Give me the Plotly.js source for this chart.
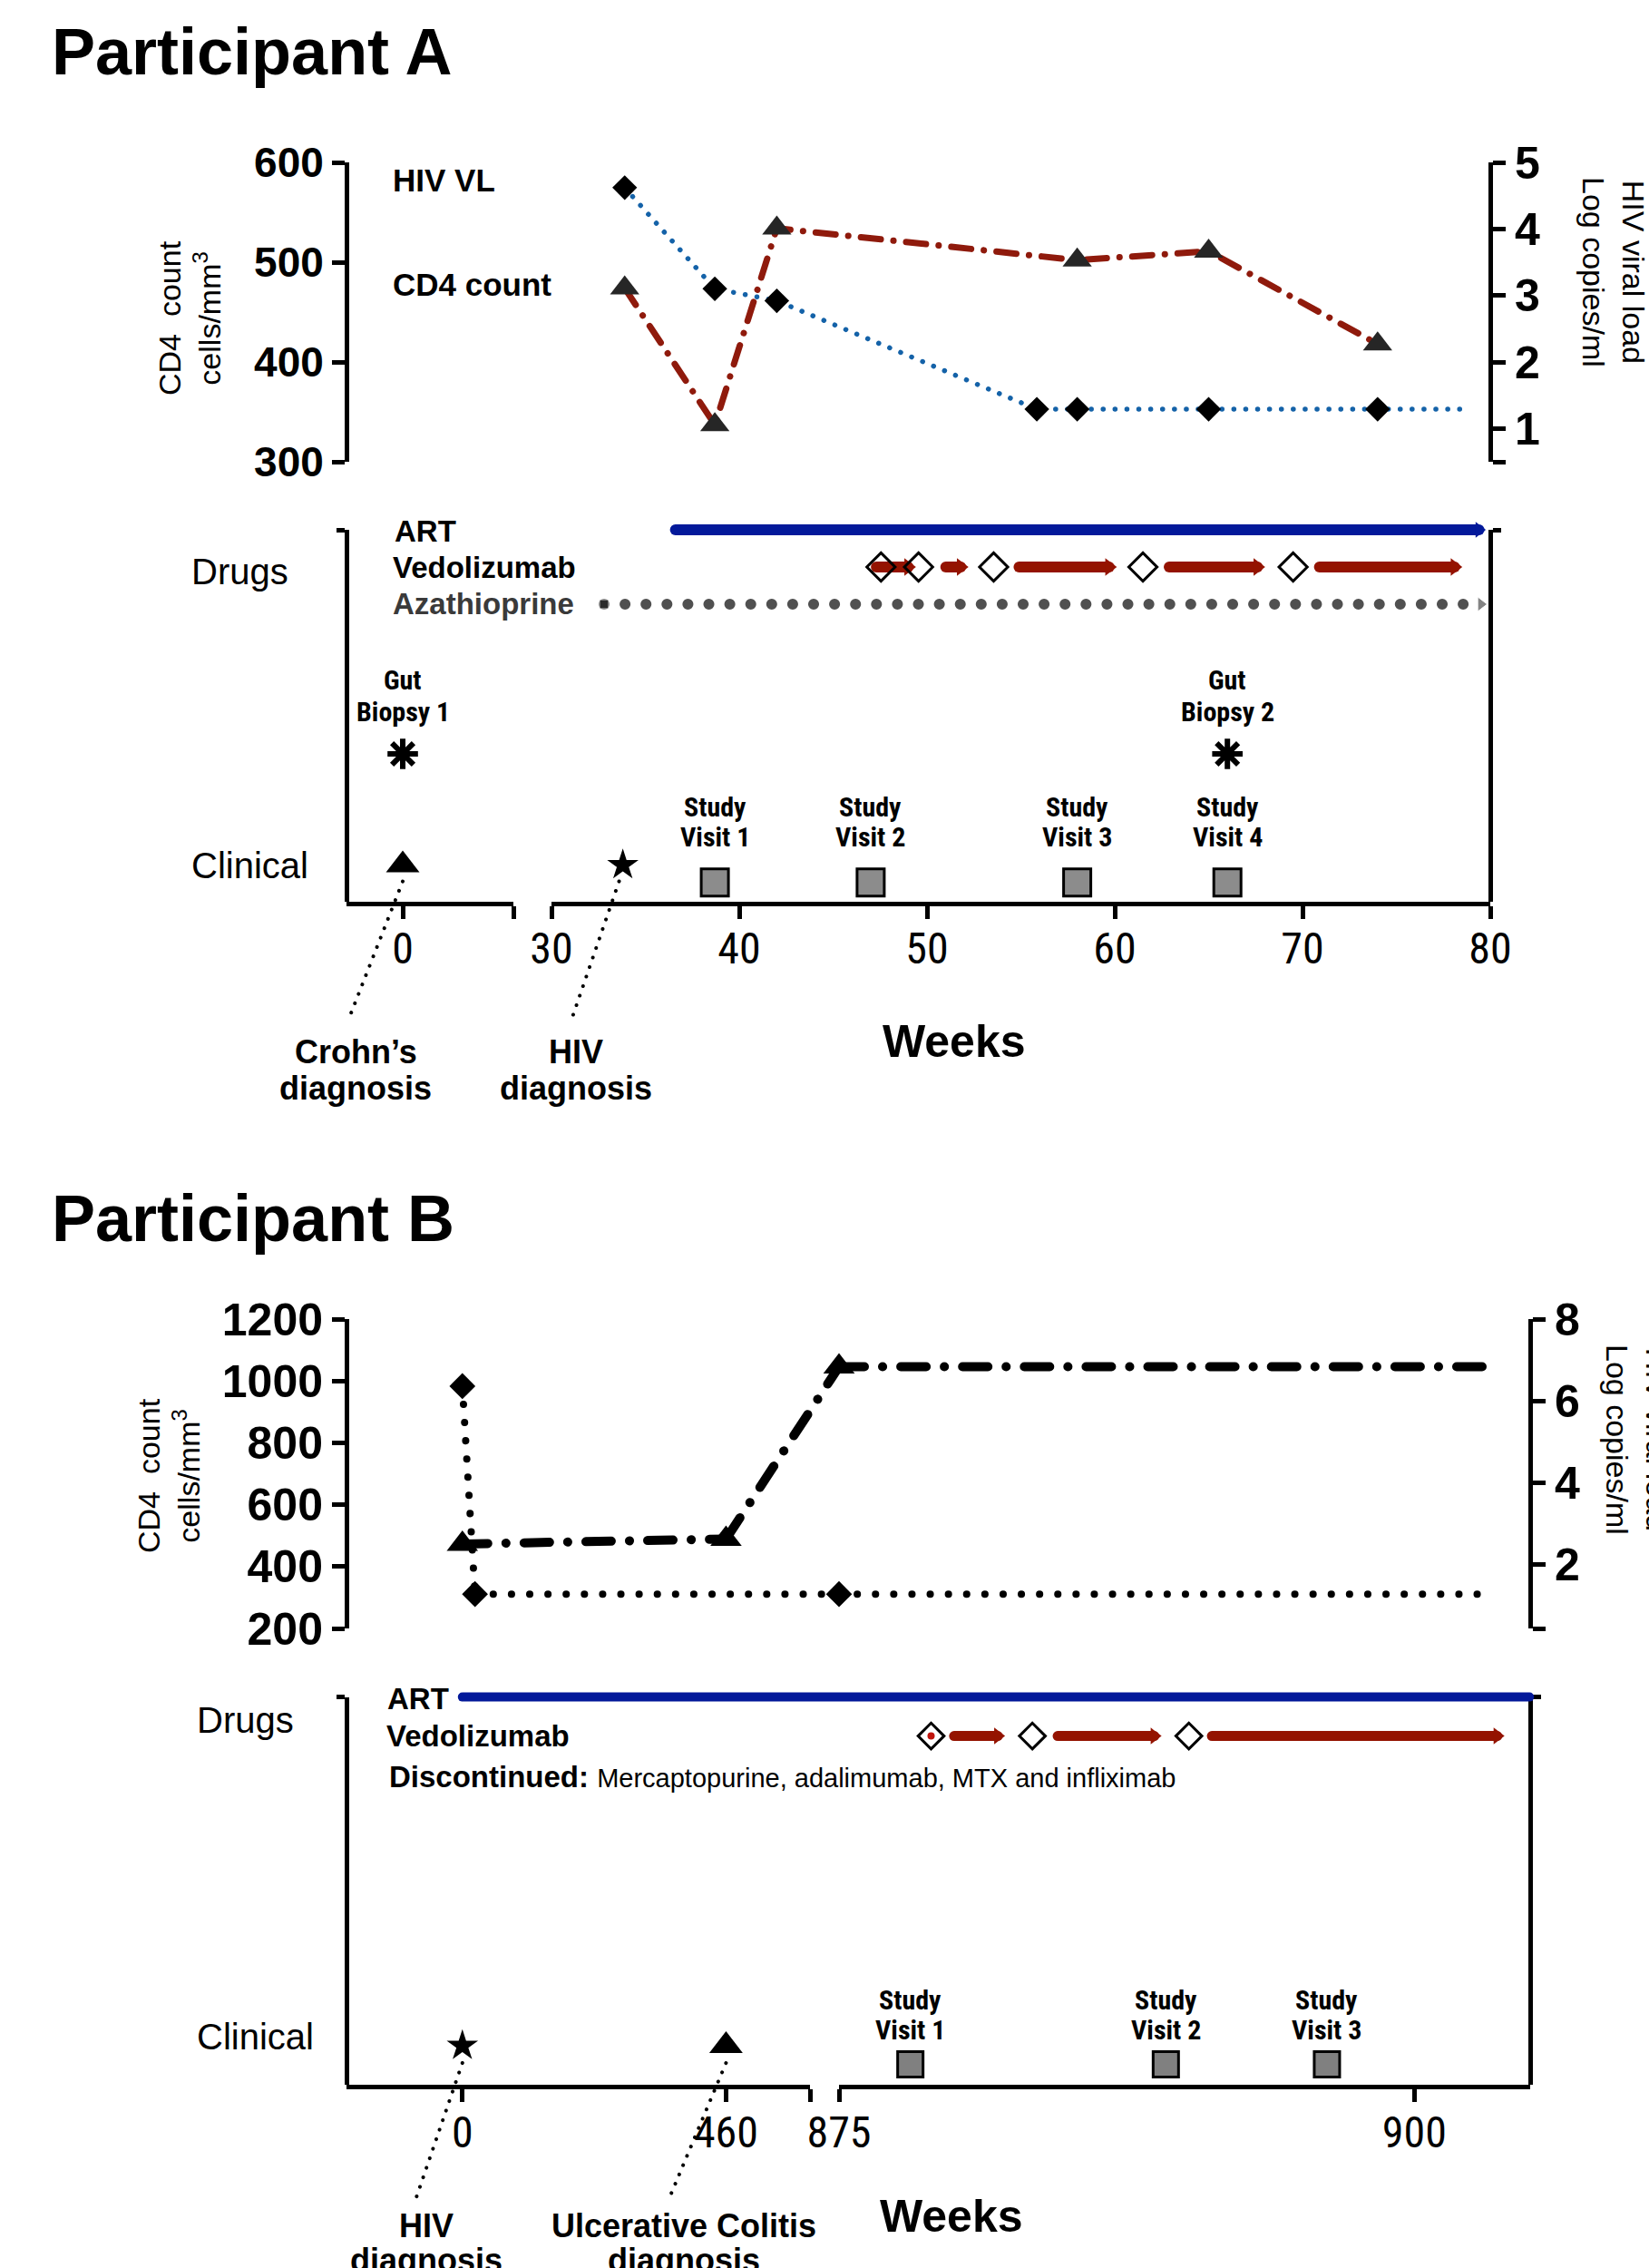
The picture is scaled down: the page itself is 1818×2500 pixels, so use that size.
<!DOCTYPE html>
<html>
<head>
<meta charset="utf-8">
<script src="https://cdn.plot.ly/plotly-3.0.1.min.js"></script>
<style>
html,body{margin:0;padding:0;background:#fff;}
#chart{width:1818px;height:2500px;}
.js-line{stroke-linecap:round;}
</style>
</head>
<body>
<div id="chart"></div>
<script>
// ================= DATA =================
// ---- Participant A (weeks) ----
const aVLWeeks = [33.9, 38.7, 42.0, 55.85, 58.0, 65.0, 74.0];
const aVL = [4.62, 3.10, 2.92, 1.29, 1.29, 1.29, 1.29];          // log copies/ml
const aVLFollowUpEnd = 78.6;
const aCD4Weeks = [33.9, 38.7, 42.0, 58.0, 65.0, 74.0];
const aCD4 = [474, 337, 534, 502, 511, 418];                       // cells/mm3
const aART = [36.6, 79.4];
const aVedoDoses = [47.55, 49.55, 53.55, 61.5, 69.5];
const aVedoArrowStart = [47.3, 51.0, 54.9, 62.9, 70.9];
const aVedoArrowEnd = [49.0, 51.8, 59.7, 67.6, 78.1];
const aAza = [32.8, 79.5];
const aBiopsyWeeks = [0, 66];
const aBiopsyLabels = [['Gut', 'Biopsy 1'], ['Gut', 'Biopsy 2']];
const aVisitWeeks = [38.7, 47.0, 58.0, 66.0];
const aVisitLabels = ['Visit 1', 'Visit 2', 'Visit 3', 'Visit 4'];
const aCrohnWeek = 0;
const aHIVWeek = 33.8;
const aSeg1Ticks = [0];
const aSeg2Ticks = [30, 40, 50, 60, 70, 80];
const aCD4Ticks = [300, 400, 500, 600];
const aVLTicks = [1, 2, 3, 4, 5];

// ---- Participant B (weeks) ----
const bVLWeeks = [0, 22, 875];
const bVL = [6.36, 1.27, 1.27];
const bVLFollowUpEnd = 903.5;
const bCD4Weeks = [0, 460, 875];
const bCD4 = [473, 489, 1046];
const bCD4FollowUpEnd = 903.5;
const bART = [0, 905];
const bVedoDoses = [879.0, 883.4, 890.2];
const bVedoArrowStart = [880.0, 884.5, 891.2];
const bVedoArrowEnd = [881.9, 888.7, 903.6];
const bVisitWeeks = [878.1, 889.2, 896.2];
const bVisitLabels = ['Visit 1', 'Visit 2', 'Visit 3'];
const bHIVWeek = 0;
const bUCWeek = 460;
const bSeg1Ticks = [0, 460];
const bSeg2Ticks = [875, 900];
const bCD4Ticks = [200, 400, 600, 800, 1000, 1200];
const bVLTicks = [2, 4, 6, 8];

// ================= LAYOUT HELPERS =================
const W = 1818, H = 2500;
const fx = p => p / W, fy = p => 1 - p / H;
const FONT = 'Liberation Sans, Arial, Helvetica, sans-serif';
const NARROW = 'Roboto Condensed, Liberation Sans, sans-serif';
const RED = '#941300', RED_CD4 = '#8f1a0c', BLUE_ART = '#03199a', BLUE_VL = '#1462a8', GRAY = '#505050';

// axis ranges of the broken week axes
const aSeg1Range = [-3, 5.9], aSeg2Range = [30, 80];
const bSeg1Range = [-202.2, 606.5], bSeg2Range = [875, 905.03];

// lanes: height (px) above the x-axis line of each timeline panel
const laneA = {art: 409.5, vedo: 368.5, aza: 327.5, biopsy: 162.5, bioLab1: 243.5, bioLab2: 208.5,
               visLab1: 103.5, visLab2: 70.5, event: 40, visit: 20.7, leadTop: 22, leadBot: -130.8};
const laneB = {art: 427.4, vedo: 384.4, visLab1: 94, visLab2: 60.6, event: 43, visit: 22.4, leadTop: 24, leadBot: -125};

const traces = [];
const base = {type: 'scatter', hoverinfo: 'skip', showlegend: false, cliponaxis: false};
function add(t) { traces.push(Object.assign({}, base, t)); }
function split(weeks, vals, brk) {
  const s1 = {x: [], y: []}, s2 = {x: [], y: []};
  weeks.forEach((w, i) => { const s = w < brk ? s1 : s2; s.x.push(w); s.y.push(vals ? vals[i] : null); });
  return {s1, s2};
}
function segs(st, en) { const x = []; st.forEach((s, i) => x.push(s, en[i], null)); return x; }
function lane(arr, v) { return arr.map(a => a === null ? null : v); }

// empty traces so that every frame / cap axis belongs to a subplot
[['x', 'y3'], ['x2', 'y3'], ['x2', 'y4'], ['x3', 'y7'], ['x4', 'y7'], ['x4', 'y8'], ['x', 'y'], ['x3', 'y5'], ['x4', 'y6'],
 ['x5', 'y3'], ['x6', 'y3'], ['x7', 'y7'], ['x8', 'y7']]
  .forEach(([xa, ya]) => add({x: [], y: [], xaxis: xa, yaxis: ya, mode: 'markers'}));

// ================= PARTICIPANT A =================
add({x: aVLWeeks.concat([aVLFollowUpEnd]), y: aVL.concat([aVL[aVL.length - 1]]), xaxis: 'x2', yaxis: 'y2',
     mode: 'lines', line: {color: BLUE_VL, width: 5.5, dash: '0.1px,13px'}});
add({x: aCD4Weeks, y: aCD4, xaxis: 'x2', yaxis: 'y', mode: 'lines',
     line: {color: RED_CD4, width: 7, dash: '22px,14px,0.1px,14px'}});
add({x: aCD4Weeks, y: aCD4, xaxis: 'x2', yaxis: 'y', mode: 'markers',
     marker: {symbol: 'triangle-up', size: 28, color: '#262626'}});
add({x: aVLWeeks, y: aVL, xaxis: 'x2', yaxis: 'y2', mode: 'markers',
     marker: {symbol: 'diamond', size: 21, color: '#000'}});

// timeline A
add({x: aART, y: lane(aART, laneA.art), xaxis: 'x2', yaxis: 'y9', mode: 'lines', line: {color: BLUE_ART, width: 12}});
add({x: [aART[1]], y: [laneA.art], xaxis: 'x2', yaxis: 'y9', mode: 'markers',
     marker: {symbol: 'triangle-right', size: 15, color: BLUE_ART}});
add({x: aAza, y: lane(aAza, laneA.aza), xaxis: 'x2', yaxis: 'y9', mode: 'lines',
     line: {color: GRAY, width: 12, dash: '0.1px,23px'}});
add({x: aAza, y: lane(aAza, laneA.aza), xaxis: 'x2', yaxis: 'y9', mode: 'markers',
     marker: {symbol: ['square', 'triangle-right'], size: [10, 14], color: ['#1a1a1a', GRAY]}});
const avx = segs(aVedoArrowStart, aVedoArrowEnd);
add({x: avx, y: lane(avx, laneA.vedo), xaxis: 'x2', yaxis: 'y9', mode: 'lines', line: {color: RED, width: 12}});
add({x: aVedoArrowEnd, y: lane(aVedoArrowEnd, laneA.vedo), xaxis: 'x2', yaxis: 'y9', mode: 'markers',
     marker: {symbol: 'triangle-right', size: 17, color: RED}});
add({x: aVedoDoses, y: lane(aVedoDoses, laneA.vedo), xaxis: 'x2', yaxis: 'y9', mode: 'markers',
     marker: {symbol: 'diamond-open', size: 24, color: '#000', line: {width: 3}}});
const aBio = split(aBiopsyWeeks, null, 30);
[['x', aBio.s1], ['x2', aBio.s2]].forEach(([ax, s]) => add({x: s.x, y: lane(s.x, laneA.biopsy), xaxis: ax, yaxis: 'y9',
     mode: 'markers', marker: {symbol: 'asterisk-open', size: 28, color: '#000', line: {color: '#000', width: 6}}}));
add({x: [aCrohnWeek], y: [laneA.event], xaxis: 'x', yaxis: 'y9', mode: 'markers',
     marker: {symbol: 'triangle-up', size: 32, color: '#000'}});
add({x: [aHIVWeek], y: [laneA.event], xaxis: 'x2', yaxis: 'y9', mode: 'markers',
     marker: {symbol: 'star', size: 26, color: '#000'}});
add({x: aVisitWeeks, y: lane(aVisitWeeks, laneA.visit), xaxis: 'x2', yaxis: 'y9', mode: 'markers',
     marker: {symbol: 'square', size: 30, color: '#8c8c8c', line: {color: '#000', width: 3}}});
const leaderLine = {color: '#000', width: 4, dash: '0.1px,11px'};
add({x: [aCrohnWeek, -2.9], y: [laneA.leadTop, laneA.leadBot], xaxis: 'x', yaxis: 'y9', mode: 'lines', line: leaderLine});
add({x: [aHIVWeek - 0.2, 31.06], y: [laneA.leadTop, laneA.leadBot], xaxis: 'x2', yaxis: 'y9', mode: 'lines', line: leaderLine});

// ================= PARTICIPANT B =================
const vlB = {color: '#000', width: 8, dash: '0.1px,20px'};
const cd4B = {color: '#000', width: 10, dash: '28px,20px,0.1px,20px'};
const bVLs = split(bVLWeeks, bVL, 875), bCD4s = split(bCD4Weeks, bCD4, 875);
add({x: bVLs.s1.x, y: bVLs.s1.y, xaxis: 'x3', yaxis: 'y6', mode: 'lines', line: vlB});
add({x: bVLs.s2.x.concat([bVLFollowUpEnd]), y: bVLs.s2.y.concat([bVLs.s2.y[bVLs.s2.y.length - 1]]),
     xaxis: 'x4', yaxis: 'y6', mode: 'lines', line: vlB});
add({x: bCD4s.s1.x, y: bCD4s.s1.y, xaxis: 'x3', yaxis: 'y5', mode: 'lines', line: cd4B});
add({x: bCD4s.s2.x.concat([bCD4FollowUpEnd]), y: bCD4s.s2.y.concat([bCD4s.s2.y[bCD4s.s2.y.length - 1]]),
     xaxis: 'x4', yaxis: 'y5', mode: 'lines', line: cd4B});
[['x3', bCD4s.s1], ['x4', bCD4s.s2]].forEach(([ax, s]) => add({x: s.x, y: s.y, xaxis: ax, yaxis: 'y5', mode: 'markers',
     marker: {symbol: 'triangle-up', size: 30, color: '#000'}}));
[['x3', bVLs.s1], ['x4', bVLs.s2]].forEach(([ax, s]) => add({x: s.x, y: s.y, xaxis: ax, yaxis: 'y6', mode: 'markers',
     marker: {symbol: 'diamond', size: 22, color: '#000'}}));

// timeline B
const bvx = segs(bVedoArrowStart, bVedoArrowEnd);
add({x: bvx, y: lane(bvx, laneB.vedo), xaxis: 'x4', yaxis: 'y10', mode: 'lines', line: {color: RED, width: 11}});
add({x: bVedoArrowEnd, y: lane(bVedoArrowEnd, laneB.vedo), xaxis: 'x4', yaxis: 'y10', mode: 'markers',
     marker: {symbol: 'triangle-right', size: 16, color: RED}});
add({x: bVedoDoses, y: lane(bVedoDoses, laneB.vedo), xaxis: 'x4', yaxis: 'y10', mode: 'markers',
     marker: {symbol: 'diamond-open', size: 22, color: '#000', line: {width: 3}}});
add({x: [bVedoDoses[0]], y: [laneB.vedo], xaxis: 'x4', yaxis: 'y10', mode: 'markers',
     marker: {symbol: 'circle', size: 8, color: '#c0140c'}});
add({x: [bHIVWeek], y: [laneB.event], xaxis: 'x3', yaxis: 'y10', mode: 'markers',
     marker: {symbol: 'star', size: 26, color: '#000'}});
add({x: [bUCWeek], y: [laneB.event], xaxis: 'x3', yaxis: 'y10', mode: 'markers',
     marker: {symbol: 'triangle-up', size: 32, color: '#000'}});
add({x: bVisitWeeks, y: lane(bVisitWeeks, laneB.visit), xaxis: 'x4', yaxis: 'y10', mode: 'markers',
     marker: {symbol: 'square', size: 28, color: '#808080', line: {color: '#000', width: 3}}});
add({x: [bHIVWeek, -80.8], y: [laneB.leadTop, laneB.leadBot], xaxis: 'x3', yaxis: 'y10', mode: 'lines', line: leaderLine});
add({x: [bUCWeek, 361], y: [laneB.leadTop, laneB.leadBot], xaxis: 'x3', yaxis: 'y10', mode: 'lines', line: leaderLine});

// ================= AXES =================
const axBase = {showline: true, linecolor: '#000', linewidth: 5, ticks: 'outside', tickcolor: '#000', tickwidth: 5,
                showgrid: false, zeroline: false, fixedrange: true, tickmode: 'array', tickangle: 0};
const xTickFont = {family: NARROW, size: 48, color: '#000'};
const yTickFont = {family: FONT, size: 46, color: '#000', weight: 'bold'};
const yTickFontB = {family: FONT, size: 50, color: '#000', weight: 'bold'};
const yTickFontR = {family: FONT, size: 50, color: '#000', weight: 'bold'};
// overlay axes that only draw the upward half of the break caps
function capAxis(over, dom, rng, anchor, v) {
  return {overlaying: over, range: rng, anchor: anchor, showline: false, showgrid: false, zeroline: false, fixedrange: true,
          tickmode: 'array', tickvals: [v], ticktext: [''], ticks: 'inside', ticklen: 11, tickwidth: 5, tickcolor: '#000'};
}

const layout = {
  width: W, height: H, margin: {l: 0, r: 0, t: 0, b: 0},
  paper_bgcolor: '#fff', plot_bgcolor: 'rgba(0,0,0,0)', showlegend: false,
  font: {family: FONT, color: '#000'},
  // A broken x axis
  xaxis: Object.assign({}, axBase, {domain: [fx(382), fx(566)], range: aSeg1Range, anchor: 'y3', ticklen: 14, ticklabelstandoff: -8,
         tickvals: aSeg1Ticks.concat([aSeg1Range[1]]), ticktext: aSeg1Ticks.map(String).concat(['']), tickfont: xTickFont}),
  xaxis2: Object.assign({}, axBase, {domain: [fx(608), fx(1643)], range: aSeg2Range, anchor: 'y3', ticklen: 14, ticklabelstandoff: -8,
         tickvals: aSeg2Ticks, ticktext: aSeg2Ticks.map(String), tickfont: xTickFont}),
  // B broken x axis
  xaxis3: Object.assign({}, axBase, {domain: [fx(382), fx(893)], range: bSeg1Range, anchor: 'y7', ticklen: 14, ticklabelstandoff: -8,
         tickvals: bSeg1Ticks.concat([bSeg1Range[1]]), ticktext: bSeg1Ticks.map(String).concat(['']), tickfont: xTickFont}),
  xaxis4: Object.assign({}, axBase, {domain: [fx(925), fx(1687)], range: bSeg2Range, anchor: 'y7', ticklen: 14, ticklabelstandoff: -8,
         tickvals: bSeg2Ticks, ticktext: bSeg2Ticks.map(String), tickfont: xTickFont}),
  xaxis5: capAxis('x', null, aSeg1Range, 'y3', aSeg1Range[1]),
  xaxis6: capAxis('x2', null, aSeg2Range, 'y3', aSeg2Range[0]),
  xaxis7: capAxis('x3', null, bSeg1Range, 'y7', bSeg1Range[1]),
  xaxis8: capAxis('x4', null, bSeg2Range, 'y7', bSeg2Range[0]),
  // helper pixel axis used for lines crossing the axis break
  xaxis9: {visible: false, domain: [0, 1], range: [0, W], anchor: 'y5', fixedrange: true},
  // A top
  yaxis: Object.assign({}, axBase, {domain: [fy(509), fy(179)], range: [300, 600], anchor: 'free', position: fx(382), side: 'left',
         ticklen: 14, tickvals: aCD4Ticks, ticktext: aCD4Ticks.map(String), tickfont: yTickFont}),
  yaxis2: Object.assign({}, axBase, {overlaying: 'y', range: [0.5, 5], anchor: 'free', position: fx(1643), side: 'right',
         ticklen: 14, tickvals: [0.5].concat(aVLTicks), ticktext: [''].concat(aVLTicks.map(String)), tickfont: yTickFontR}),
  yaxis3: Object.assign({}, axBase, {domain: [fy(993.5), fy(584)], range: [0, 1], anchor: 'free', position: fx(382), side: 'left',
         ticklen: 9, tickvals: [1], ticktext: ['']}),
  yaxis4: Object.assign({}, axBase, {overlaying: 'y3', range: [0, 1], anchor: 'free', position: fx(1643), side: 'right',
         ticklen: 9, tickvals: [1], ticktext: ['']}),
  yaxis9: {visible: false, domain: [fy(1140), fy(540)], range: [-146.5, 453.5], anchor: 'x', fixedrange: true},
  // B top
  yaxis5: Object.assign({}, axBase, {domain: [fy(1795), fy(1454)], range: [200, 1200], anchor: 'free', position: fx(382), side: 'left',
         ticklen: 14, tickvals: bCD4Ticks, ticktext: bCD4Ticks.map(String), tickfont: yTickFontB}),
  yaxis6: Object.assign({}, axBase, {overlaying: 'y5', range: [0.43, 8], anchor: 'free', position: fx(1687), side: 'right',
         ticklen: 14, tickvals: [0.43].concat(bVLTicks), ticktext: [''].concat(bVLTicks.map(String)), tickfont: yTickFontR}),
  yaxis7: Object.assign({}, axBase, {domain: [fy(2298), fy(1870.6)], range: [0, 1], anchor: 'free', position: fx(382), side: 'left',
         ticklen: 9, tickvals: [1], ticktext: ['']}),
  yaxis8: Object.assign({}, axBase, {overlaying: 'y7', range: [0, 1], anchor: 'free', position: fx(1687), side: 'right',
         ticklen: 9, tickvals: [1], ticktext: ['']}),
  yaxis10: {visible: false, domain: [fy(2440), fy(1840)], range: [-142, 458], anchor: 'x3', fixedrange: true},
  annotations: []
};

// ================= TEXT =================
function ann(text, xp, yp, o) {
  layout.annotations.push(Object.assign({text: text, x: fx(xp), y: fy(yp), xref: 'paper', yref: 'paper', showarrow: false,
    xanchor: 'center', yanchor: 'middle', font: {family: FONT, size: 34, color: '#000'}}, o || {}));
}
function dataAnn(text, x, xref, y, yref, size) {
  layout.annotations.push({text: text, x: x, y: y, xref: xref, yref: yref, showarrow: false, xanchor: 'center', yanchor: 'middle',
    font: {family: NARROW, size: size, color: '#000', weight: 'bold'}});
}
const B = (s) => ({family: FONT, size: s, color: '#000', weight: 'bold'});
const R = (s) => ({family: FONT, size: s, color: '#000'});

// A
ann('Participant A', 55, 57, {xanchor: 'left', font: B(72)});
ann('HIV VL', 431, 198, {xanchor: 'left', font: B(35)});
ann('CD4 count', 431, 314, {xanchor: 'left', font: B(35)});
ann('CD4  count<br>cells/mm<sup>3</sup>', 209, 351, {textangle: -90, font: R(34)});
ann('HIV viral load<br>Log copies/ml', 1779, 300, {textangle: 90, font: R(34)});
ann('Drugs', 209, 630, {xanchor: 'left', font: R(40)});
ann('Clinical', 209, 954, {xanchor: 'left', font: R(40)});
ann('ART', 433, 586, {xanchor: 'left', font: B(33)});
ann('Vedolizumab', 431, 626, {xanchor: 'left', font: B(33)});
ann('Azathioprine', 431, 666, {xanchor: 'left', font: {family: FONT, size: 33, color: '#3a3a3a', weight: 'bold'}});
ann('Crohn’s', 392, 1159, {font: B(36)});
ann('diagnosis', 392, 1199, {font: B(36)});
ann('HIV', 635, 1159, {font: B(36)});
ann('diagnosis', 635, 1199, {font: B(36)});
ann('Weeks', 1052, 1148, {font: B(50)});
aBiopsyWeeks.forEach((w, i) => {
  const xr = w < 30 ? 'x' : 'x2';
  dataAnn(aBiopsyLabels[i][0], w, xr, laneA.bioLab1, 'y9', 30);
  dataAnn(aBiopsyLabels[i][1], w, xr, laneA.bioLab2, 'y9', 30);
});
aVisitWeeks.forEach((w, i) => {
  dataAnn('Study', w, 'x2', laneA.visLab1, 'y9', 30);
  dataAnn(aVisitLabels[i], w, 'x2', laneA.visLab2, 'y9', 30);
});

// B
ann('Participant B', 55, 1343, {xanchor: 'left', font: B(72)});
ann('CD4  count<br>cells/mm<sup>3</sup>', 186, 1627, {textangle: -90, font: R(34)});
ann('HIV viral load<br>Log copies/ml', 1805, 1587, {textangle: 90, font: R(34)});
ann('Drugs', 215, 1896, {xanchor: 'left', font: R(40)});
ann('Clinical', 215, 2245, {xanchor: 'left', font: R(40)});
ann('ART', 425, 1872, {xanchor: 'left', font: B(33)});
ann('Vedolizumab', 424, 1913, {xanchor: 'left', font: B(33)});
ann('<b>Discontinued:</b> <span style="font-size:29px">Mercaptopurine, adalimumab, MTX and infliximab</span>', 427, 1958,
    {xanchor: 'left', font: R(33)});
ann('HIV', 470, 2453, {font: B(36)});
ann('diagnosis', 470, 2491, {font: B(36)});
ann('Ulcerative Colitis', 754, 2453, {font: B(36)});
ann('diagnosis', 754, 2491, {font: B(36)});
ann('Weeks', 1049, 2443, {font: B(50)});
bVisitWeeks.forEach((w, i) => {
  dataAnn('Study', w, 'x4', laneB.visLab1, 'y10', 30);
  dataAnn(bVisitLabels[i], w, 'x4', laneB.visLab2, 'y10', 30);
});

// ================= DRAW =================
const gd = document.getElementById('chart');
Plotly.newPlot(gd, traces, layout, {staticPlot: true, displayModeBar: false}).then(() => {
  const fl = gd._fullLayout;
  const px = (axName, w) => fl[axName]._offset + fl[axName].l2p(w);
  const vl1 = bVLs.s1, vl2 = bVLs.s2, c1 = bCD4s.s1, c2 = bCD4s.s2;
  const bridges = [
    Object.assign({}, base, {x: [px('xaxis3', vl1.x[vl1.x.length - 1]), px('xaxis4', vl2.x[0])],
      y: [vl1.y[vl1.y.length - 1], vl2.y[0]], xaxis: 'x9', yaxis: 'y6', mode: 'lines', line: vlB}),
    Object.assign({}, base, {x: [px('xaxis3', c1.x[c1.x.length - 1]), px('xaxis4', c2.x[0])],
      y: [c1.y[c1.y.length - 1], c2.y[0]], xaxis: 'x9', yaxis: 'y5', mode: 'lines', line: cd4B}),
    Object.assign({}, base, {x: [px('xaxis3', bART[0]), px('xaxis4', bART[1])],
      y: [laneB.art, laneB.art], xaxis: 'x9', yaxis: 'y10', mode: 'lines', line: {color: BLUE_ART, width: 10}})
  ];
  return Plotly.addTraces(gd, bridges, [0, 1, 2]);
});
</script>
</body>
</html>
